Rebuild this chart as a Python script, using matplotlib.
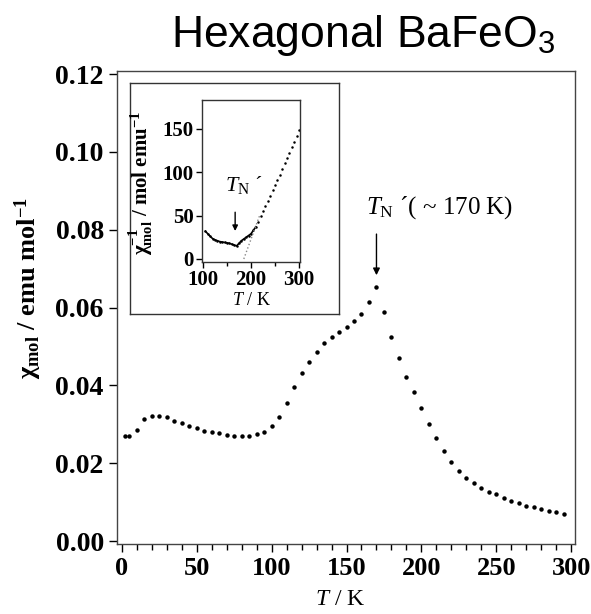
import matplotlib
matplotlib.use('Agg')
import matplotlib.pyplot as plt
from matplotlib.ticker import MultipleLocator

plt.rcParams['font.family'] = ['Liberation Serif', 'DejaVu Serif']
plt.rcParams['mathtext.fontset'] = 'custom'
plt.rcParams['mathtext.rm'] = 'Liberation Serif'
plt.rcParams['mathtext.bf'] = 'Liberation Serif:bold'
plt.rcParams['mathtext.it'] = 'Liberation Serif:italic'
plt.rcParams['mathtext.sf'] = 'Liberation Sans'

# main curve: chi_mol vs T
T = [2, 5, 10, 15, 20, 25, 30, 35, 40, 45, 50, 55, 60, 65, 70, 75, 80, 85, 90, 95,
     100, 105, 110, 115, 120, 125, 130, 135, 140, 145, 150, 155, 160, 165, 170,
     175, 180, 185, 190, 195, 200, 205, 210, 215, 220, 225, 230, 235, 240, 245,
     250, 255, 260, 265, 270, 275, 280, 285, 290, 295]
chi = [0.0270, 0.0270, 0.0285, 0.0313, 0.0321, 0.0321, 0.0319, 0.0308, 0.0303, 0.0295,
       0.0290, 0.0283, 0.0280, 0.0278, 0.0272, 0.0270, 0.0270, 0.0270, 0.0275, 0.0280,
       0.0296, 0.0318, 0.0354, 0.0396, 0.0432, 0.0460, 0.0486, 0.0508, 0.0524, 0.0536,
       0.0550, 0.0565, 0.0583, 0.0614, 0.0653, 0.0589, 0.0524, 0.0470, 0.0422, 0.0383,
       0.0342, 0.0301, 0.0265, 0.0231, 0.0203, 0.0180, 0.0162, 0.0149, 0.0136, 0.0126,
       0.0120, 0.0110, 0.0103, 0.0098, 0.0090, 0.0087, 0.0082, 0.0077, 0.0075, 0.0069]

# inset: inverse susceptibility
T_inv = [105, 110, 115, 120, 125, 130, 135, 140, 145, 150, 155, 160, 165, 170, 175,
         180, 185, 190, 195, 200, 205, 210, 215, 220, 225, 230, 235, 240, 245, 250,
         255, 260, 265, 270, 275, 280, 285, 290, 295, 300]
chi_inv = [32, 29, 26, 23.5, 22, 21, 20, 19.5, 19, 18.5, 18, 17, 16, 15, 18,
           21, 23, 25, 27, 29, 33, 37, 43, 49, 55, 61, 67, 73, 79, 85,
           91, 97, 103, 110, 116, 122, 129, 135, 142, 148]
fit_T = [185, 218]
fit_v = [0, 50]

fig = plt.figure(figsize=(5.91, 6.14), dpi=100)
ax = fig.add_axes([117/591, 70/614, 458/591, 473/614])

ax.plot(T, chi, 'o', color='black', ms=3.2, mec='none')
ax.set_xlim(-3.3, 302.6)
ax.set_ylim(-0.00077, 0.1208)
ax.set_xticks([0, 50, 100, 150, 200, 250, 300])
ax.xaxis.set_minor_locator(MultipleLocator(10))
ax.set_yticks([0.00, 0.02, 0.04, 0.06, 0.08, 0.10, 0.12])
ax.set_yticklabels(['0.00', '0.02', '0.04', '0.06', '0.08', '0.10', '0.12'])
ax.tick_params(which='major', direction='out', length=6, width=1)
ax.tick_params(which='minor', direction='out', length=4, width=1)
ax.tick_params(axis='x', labelsize=19)
ax.tick_params(axis='y', labelsize=20)
for lab in ax.get_xticklabels() + ax.get_yticklabels():
    lab.set_fontweight('bold')
for s in ax.spines.values():
    s.set_color('#444444')
    s.set_linewidth(1)

ax.set_xlabel(r'$\mathit{T}$ / K', fontsize=17)
ax.xaxis.set_label_coords((340 - 117) / 458, -(589 - 544) / 473)
ax.set_ylabel(r'χ$_{\mathbf{mol}}$ / emu mol$^{\mathbf{-1}}$', fontsize=19,
              fontweight='bold')
ax.yaxis.set_label_coords((44 - 117) / 458, (544 - 288) / 473)

ax.annotate('', xy=(170, 0.0676), xytext=(170, 0.0796),
            arrowprops=dict(arrowstyle='-|>', color='black', lw=1, mutation_scale=10))
ax.text(163, 0.0858, r'$\mathit{T}_{\rm N}$ ´( ~ 170 K)', fontsize=18,
        ha='left', va='center')

fig.text(363/591, 1 - 36/614, r'Hexagonal BaFeO$_\mathsf{3}$', fontsize=32,
         family='Liberation Sans', ha='center', va='center')

# inset frame
box = fig.add_axes([130/591, 1 - 314/614, 209/591, 231/614])
box.set_xticks([])
box.set_yticks([])
for s in box.spines.values():
    s.set_color('#333333')
    s.set_linewidth(1)

ins = fig.add_axes([202/591, 1 - 262/614, 98/591, 162/614])
ins.plot(T_inv, chi_inv, 'o', color='black', ms=1.8, mec='none')
ins.plot(T_inv[:22], chi_inv[:22], '-', color='black', lw=1.2)
ins.plot(fit_T, fit_v, ':', color='#888888', lw=1)
ins.set_xlim(98, 302)
ins.set_ylim(-3.5, 183)
ins.set_xticks([100, 200, 300])
ins.xaxis.set_minor_locator(MultipleLocator(50))
ins.set_yticks([0, 50, 100, 150])
ins.tick_params(which='major', direction='out', length=4, width=1, labelsize=15, pad=2)
ins.tick_params(which='minor', direction='out', length=3, width=1)
for lab in ins.get_xticklabels() + ins.get_yticklabels():
    lab.set_fontweight('bold')
for s in ins.spines.values():
    s.set_color('#333333')
    s.set_linewidth(1)
ins.set_xlabel(r'$\mathit{T}$ / K', fontsize=13, labelpad=1)
ins.set_ylabel(r'χ$^{\mathbf{-1}}_{\mathbf{mol}}$ / mol emu$^{\mathbf{-1}}$', fontsize=15,
               fontweight='bold')
ins.yaxis.set_label_coords((155 - 202) / 98, (262 - 183) / 162)
ins.annotate('', xy=(167, 29), xytext=(167, 57),
             arrowprops=dict(arrowstyle='-|>', color='black', lw=1, mutation_scale=8))
ins.text(146, 85, r'$\mathit{T}_{\rm N}$ ´', fontsize=16, ha='left', va='center')

fig.savefig('out.png', dpi=100)
